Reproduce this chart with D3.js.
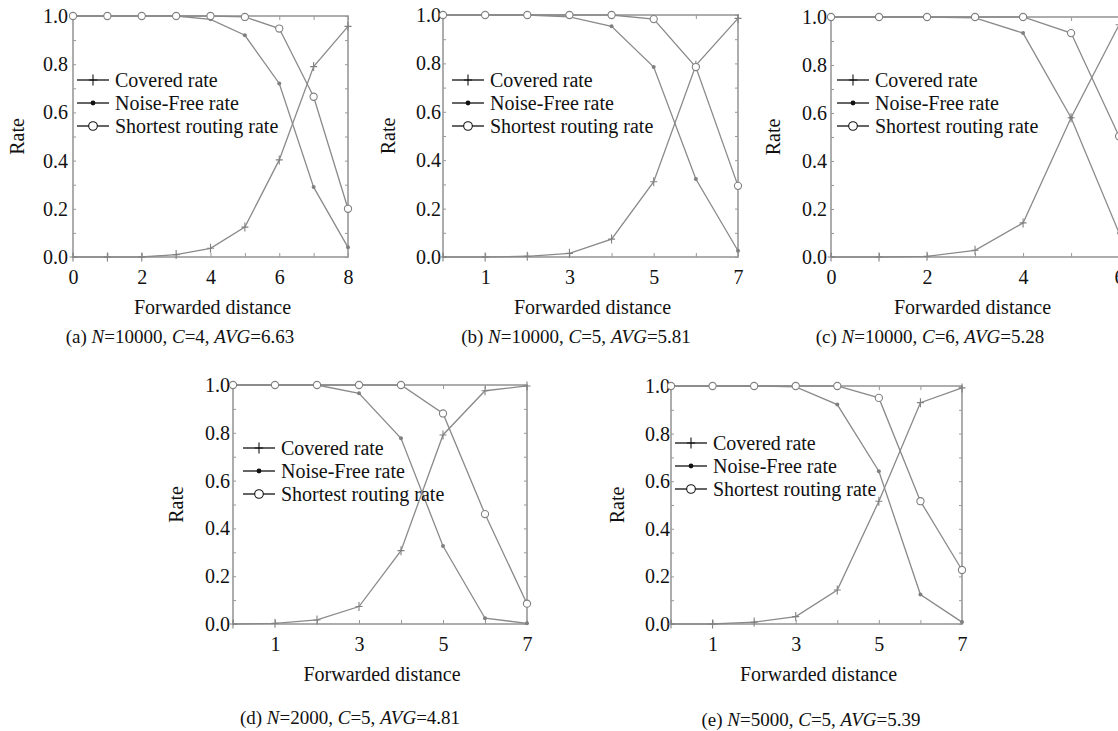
<!DOCTYPE html>
<html lang="en">
<head>
    <meta charset="UTF-8">
    <title>Covered / Noise-Free / Shortest routing rate vs forwarded distance</title>
    <script src="https://d3js.org/d3.v7.min.js"></script>
    <style>
        body { margin: 0; background: #fff; }
        text { font-family: "Liberation Serif", "Times New Roman", serif; fill: #111; }
    </style>
</head>
<body>
    <div id="chart"></div>

    <script>
        // Data (x = forwarded distance, y = rate)
        const seriesNames = ["Covered rate", "Noise-Free rate", "Shortest routing rate"];

        const xA = [0, 1, 2, 3, 4, 5, 6, 7, 8];
        const coveredA = [0, 0, 0, 0.01, 0.036, 0.124, 0.403, 0.79, 0.957];
        const noiseFreeA = [1, 1, 1, 1, 0.986, 0.92, 0.72, 0.29, 0.04];
        const shortestA = [1, 1, 1, 1, 1, 0.996, 0.948, 0.665, 0.2];

        const xB = [0, 1, 2, 3, 4, 5, 6, 7];
        const coveredB = [0, 0, 0.003, 0.015, 0.074, 0.311, 0.792, 0.986];
        const noiseFreeB = [1, 1, 1, 0.992, 0.953, 0.785, 0.322, 0.026];
        const shortestB = [1, 1, 1, 1, 1, 0.983, 0.785, 0.294];

        const xC = [0, 1, 2, 3, 4, 5, 6];
        const coveredC = [0, 0, 0.003, 0.028, 0.142, 0.58, 0.968];
        const noiseFreeC = [1, 1, 1, 0.996, 0.933, 0.58, 0.1];
        const shortestC = [1, 1, 1, 1, 1, 0.933, 0.503];

        const xD = [0, 1, 2, 3, 4, 5, 6, 7];
        const coveredD = [0, 0.003, 0.017, 0.073, 0.307, 0.791, 0.976, 0.996];
        const noiseFreeD = [1, 1, 1, 0.965, 0.777, 0.326, 0.024, 0.003];
        const shortestD = [1, 1, 1, 1, 1, 0.881, 0.46, 0.085];

        const xE = [0, 1, 2, 3, 4, 5, 6, 7];
        const coveredE = [0, 0, 0.008, 0.031, 0.143, 0.516, 0.93, 0.992];
        const noiseFreeE = [1, 1, 1, 0.996, 0.922, 0.642, 0.124, 0.008];
        const shortestE = [1, 1, 1, 1, 1, 0.95, 0.516, 0.227];

        // tick labels on the x axis of each panel
        const xLabelsA = [0, 2, 4, 6, 8];
        const xLabelsB = [1, 3, 5, 7];
        const xLabelsC = [0, 2, 4, 6];
        const yLabels = [0, 0.2, 0.4, 0.6, 0.8, 1.0];

        // captions: [letter, N, C, AVG]
        const captions = [
            ["a", "10000", "4", "6.63"],
            ["b", "10000", "5", "5.81"],
            ["c", "10000", "6", "5.28"],
            ["d", "2000", "5", "4.81"],
            ["e", "5000", "5", "5.39"]
        ];

        // Panel layout
        const panels = [
            {x: xA, s: [coveredA, noiseFreeA, shortestA], xl: xLabelsA, dom: [0, 8],
             left: 73, right: 348, top: 16, bottom: 257, ypad: 5, rateX: 17, capX: 180, capY: 336,
             legX: 77, legY: 80},
            {x: xB, s: [coveredB, noiseFreeB, shortestB], xl: xLabelsB, dom: [0, 7],
             left: 443, right: 738, top: 15, bottom: 257, ypad: 2, rateX: 388, capX: 576, capY: 336,
             legX: 452, legY: 80},
            {x: xC, s: [coveredC, noiseFreeC, shortestC], xl: xLabelsC, dom: [0, 6.05],
             left: 831, right: 1121.5, top: 17, bottom: 257, ypad: 4, rateX: 773, capX: 930, capY: 336,
             legX: 837, legY: 80},
            {x: xD, s: [coveredD, noiseFreeD, shortestD], xl: xLabelsB, dom: [0, 7],
             left: 233, right: 527, top: 385, bottom: 624, ypad: 3, rateX: 176, capX: 350, capY: 717,
             legX: 243, legY: 448},
            {x: xE, s: [coveredE, noiseFreeE, shortestE], xl: xLabelsB, dom: [0, 7],
             left: 671, right: 962, top: 386, bottom: 624, ypad: 1, rateX: 617, capX: 811, capY: 719,
             legX: 675, legY: 443}
        ];

        const W = 1118, H = 731;
        const lineColor = "#8a8a8a";
        const frameColor = "#999";

        const svg = d3.select("#chart")
            .append("svg")
            .attr("width", W)
            .attr("height", H)
            .style("display", "block");

        svg.append("rect").attr("width", W).attr("height", H).attr("fill", "#fff");

        function drawMarker(g, type, cx, cy, color, big) {
            const s = big ? 1.2 : 1;
            if (type === 0) {
                g.append("path")
                    .attr("d", `M${cx - 3.5 * s},${cy}H${cx + 3.5 * s}M${cx},${cy - 4.5 * s}V${cy + 4.5 * s}`)
                    .attr("stroke", color).attr("stroke-width", 1.1).attr("fill", "none");
            } else if (type === 1) {
                g.append("circle").attr("cx", cx).attr("cy", cy).attr("r", 2 * s)
                    .attr("fill", color);
            } else {
                g.append("circle").attr("cx", cx).attr("cy", cy).attr("r", 3.6 * s)
                    .attr("fill", "#fff").attr("stroke", color).attr("stroke-width", 1.1);
            }
        }

        panels.forEach((p, i) => {
            const g = svg.append("g");

            const x = d3.scaleLinear().domain(p.dom).range([p.left, p.right]);
            const y = d3.scaleLinear().domain([0, 1]).range([p.bottom, p.top]);

            const xTicks = d3.range(Math.ceil(p.dom[0]), Math.floor(p.dom[1]) + 1);
            const yTicks = d3.range(0, 11).map(v => v / 10);

            // bottom axis (ticks inward)
            const bottomAxis = g.append("g")
                .attr("transform", `translate(0,${p.bottom})`)
                .call(d3.axisBottom(x).tickValues(xTicks).tickSize(-4).tickPadding(13)
                    .tickFormat(d => p.xl.includes(d) ? d : ""));
            // top axis
            const topAxis = g.append("g")
                .attr("transform", `translate(0,${p.top})`)
                .call(d3.axisTop(x).tickValues(xTicks).tickSize(-4).tickFormat(""));
            // left axis
            const leftAxis = g.append("g")
                .attr("transform", `translate(${p.left},0)`)
                .call(d3.axisLeft(y).tickValues(yTicks).tickSize(-3).tickPadding(p.ypad)
                    .tickFormat(d => yLabels.some(v => Math.abs(v - d) < 1e-9) ? d3.format(".1f")(d) : ""));
            // right axis
            const rightAxis = g.append("g")
                .attr("transform", `translate(${p.right},0)`)
                .call(d3.axisRight(y).tickValues(yTicks).tickSize(-3).tickFormat(""));

            [bottomAxis, topAxis, leftAxis, rightAxis].forEach(a => {
                a.attr("font-family", '"Liberation Serif", serif');
                a.select(".domain").remove();
                a.selectAll(".tick line").attr("stroke", frameColor).attr("stroke-width", 1);
                a.selectAll(".tick text")
                    .style("font-size", "20px")
                    .attr("fill", "#111");
            });

            // frame
            g.append("rect")
                .attr("x", p.left).attr("y", p.top)
                .attr("width", p.right - p.left).attr("height", p.bottom - p.top)
                .attr("fill", "none").attr("stroke", frameColor).attr("stroke-width", 1.6);

            // series lines
            const line = d3.line().x(d => x(d[0])).y(d => y(d[1]));
            p.s.forEach((vals, k) => {
                const pts = p.x.map((xv, j) => [xv, vals[j]]);
                g.append("path")
                    .datum(pts)
                    .attr("d", line)
                    .attr("fill", "none")
                    .attr("stroke", lineColor)
                    .attr("stroke-width", 1.3);
            });
            p.s.forEach((vals, k) => {
                p.x.forEach((xv, j) => drawMarker(g, k, x(xv), y(vals[j]), "#808080", false));
            });

            // legend
            seriesNames.forEach((name, k) => {
                const ly = p.legY + k * 23;
                g.append("line")
                    .attr("x1", p.legX).attr("x2", p.legX + 32)
                    .attr("y1", ly).attr("y2", ly)
                    .attr("stroke", "#111").attr("stroke-width", 1.3);
                drawMarker(g, k, p.legX + 16, ly, "#111", true);
                g.append("text")
                    .attr("x", p.legX + 38)
                    .attr("y", ly)
                    .attr("dy", "0.35em")
                    .style("font-size", "20px")
                    .text(name);
            });

            // axis titles
            g.append("text")
                .attr("x", (p.left + Math.min(p.right, 1114)) / 2 + (i === 2 ? 0 : 2))
                .attr("y", p.bottom + 50)
                .attr("dy", "0.35em")
                .attr("text-anchor", "middle")
                .style("font-size", "20px")
                .text("Forwarded distance");

            g.append("text")
                .attr("transform", `translate(${p.rateX},${(p.top + p.bottom) / 2}) rotate(-90)`)
                .attr("dy", "0.35em")
                .attr("text-anchor", "middle")
                .style("font-size", "20px")
                .text("Rate");

            // caption
            const c = captions[i];
            const cap = g.append("text")
                .attr("x", p.capX)
                .attr("y", p.capY)
                .attr("dy", "0.35em")
                .attr("text-anchor", "middle")
                .style("font-size", "19px");
            cap.append("tspan").text(`(${c[0]}) `);
            cap.append("tspan").style("font-style", "italic").text("N");
            cap.append("tspan").text(`=${c[1]}, `);
            cap.append("tspan").style("font-style", "italic").text("C");
            cap.append("tspan").text(`=${c[2]}, `);
            cap.append("tspan").style("font-style", "italic").text("AVG");
            cap.append("tspan").text(`=${c[3]}`);
        });
    </script>
</body>
</html>
